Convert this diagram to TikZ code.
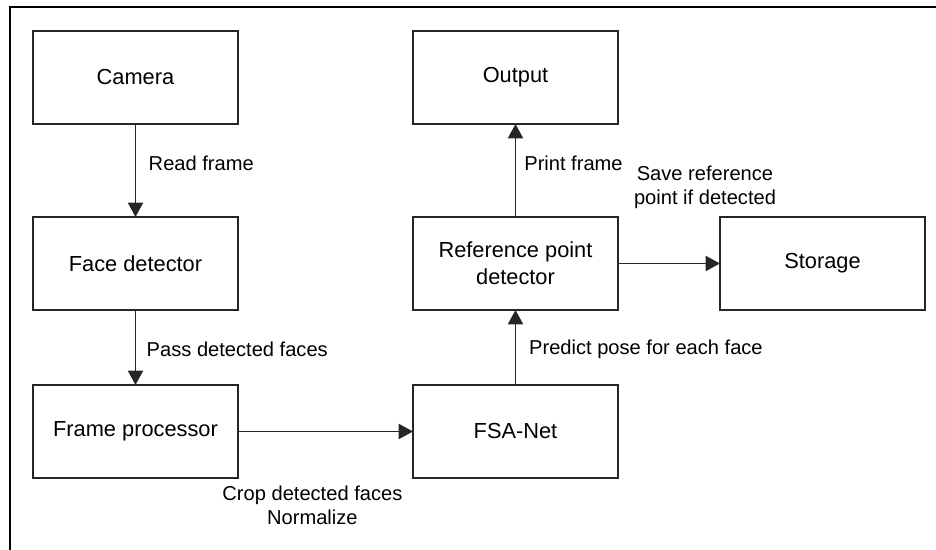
\documentclass[tikz,border=0pt]{standalone}
\usepackage{fontspec}
\setmainfont{Liberation Sans}
\usetikzlibrary{positioning,arrows.meta,calc}
\tikzset{
  >={Triangle[length=3.6mm,width=3.8mm]},
  procbox/.style={draw=black!85,line width=1.2pt,minimum width=5.125cm,
    minimum height=2.325cm,inner sep=2pt,outer sep=0pt,align=center,
    font=\fontsize{15.5}{19}\selectfont},
  flow/.style={->,draw=black!85,line width=1.2pt},
  flowlbl/.style={font=\fontsize{14.3}{17}\selectfont,inner sep=0pt,
    align=center},
}
\begin{document}
\begin{tikzpicture}
  \useasboundingbox (0,0) rectangle (23.4,-13.75);
  \draw[line width=1.3pt] (0.25,-13.75) |- (23.4,-0.175);
  % left column
  \node[procbox] (cam) at (3.3875,-1.9375) {Camera};
  \node[procbox,below=2.325cm of cam] (face) {Face detector};
  \node[procbox,below=1.875cm of face] (frame) {Frame processor};
  % right column
  \node[procbox,right=4.375cm of frame] (fsa) {FSA-Net};
  \node[procbox,above=1.875cm of fsa] (ref) {Reference point\\detector};
  \node[procbox,above=2.325cm of ref] (out) {Output};
  \node[procbox,right=2.55cm of ref] (store) {Storage};

  \draw[flow] (cam) -- node[flowlbl,pos=0.42,anchor=west,xshift=0.31cm]
    (readlbl) {Read frame} (face);
  \draw[flow] (face) -- node[flowlbl,pos=0.52,anchor=west,xshift=0.26cm]
    (passlbl) {Pass detected faces} (frame);
  \draw[flow] (frame) -- (fsa);
  \node[flowlbl] (croplbl) at ($(frame.south east)+(1.86cm,-0.68cm)$)
    {Crop detected faces\\Normalize};
  \draw[flow] (fsa) -- node[flowlbl,pos=0.48,anchor=west,xshift=0.32cm]
    (poselbl) {Predict pose for each face} (ref);
  \draw[flow] (ref) -- node[flowlbl,pos=0.58,anchor=west,xshift=0.2cm]
    (printlbl) {Print frame} (out);
  \draw[flow] (ref) -- (store);
  \node[flowlbl] (savelbl) at ($(ref.east)+(2.175cm,1.9cm)$)
    {Save reference\\point if detected};
\end{tikzpicture}
\end{document}
